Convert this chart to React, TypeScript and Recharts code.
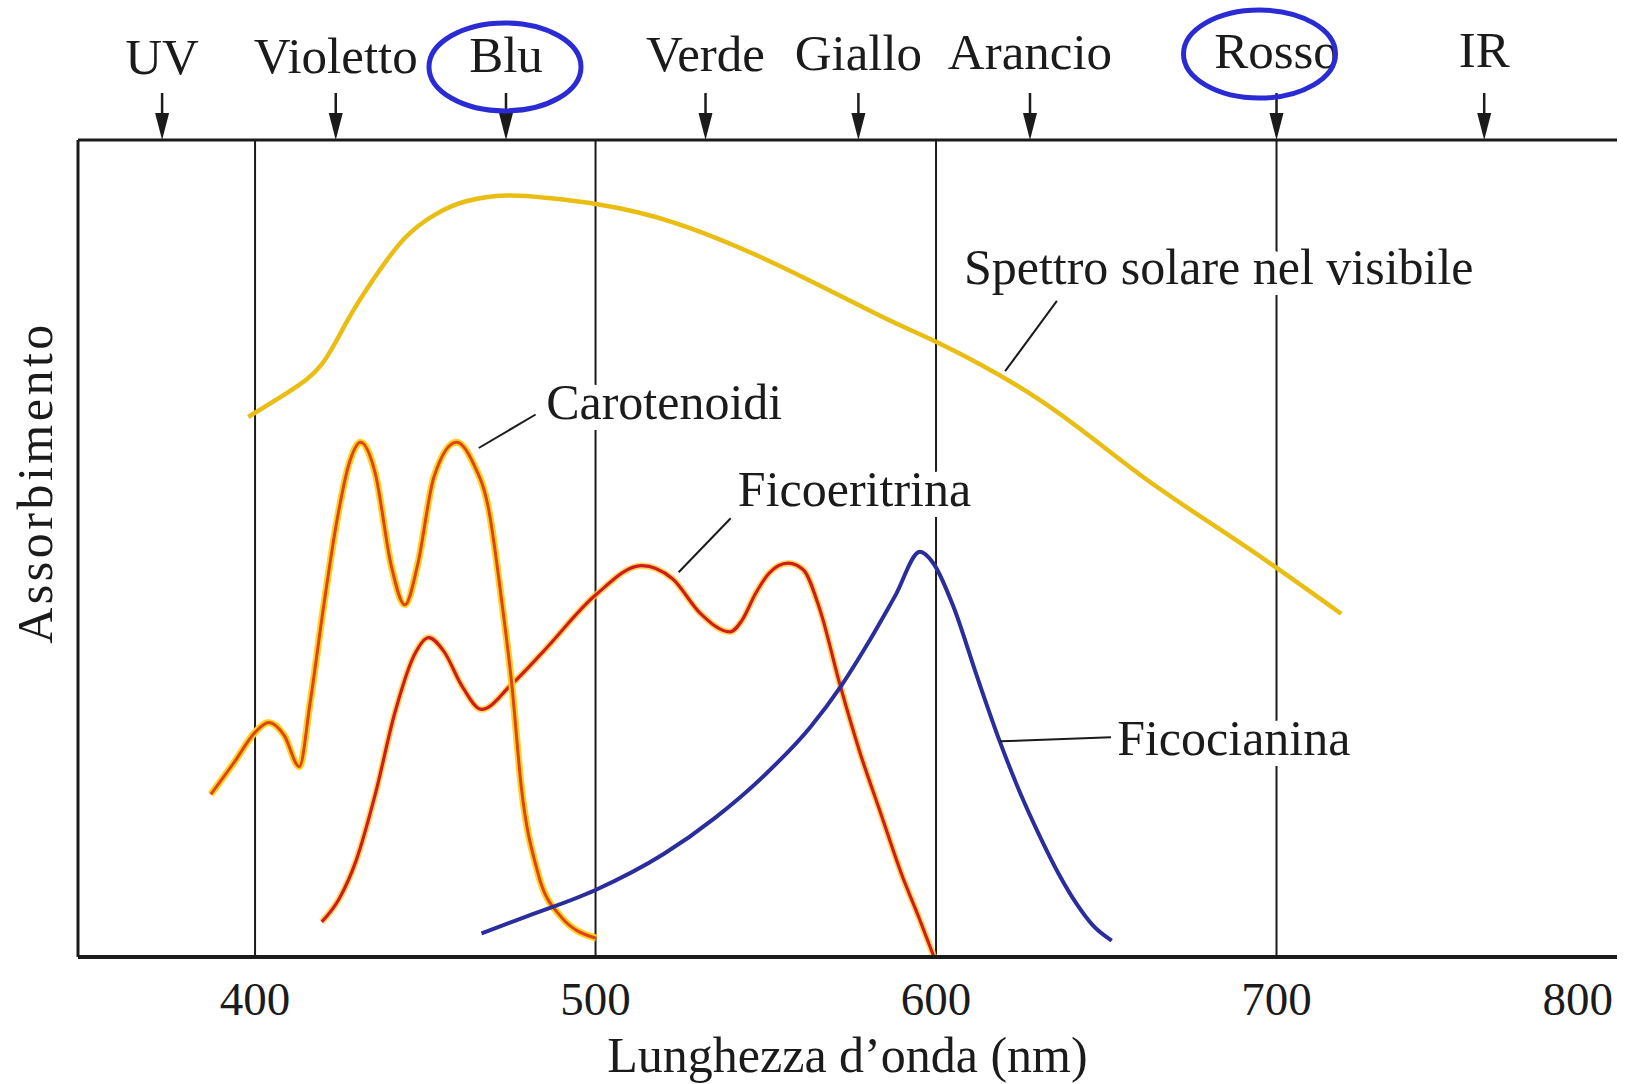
import React from "react";
import { LineChart, Line, XAxis, YAxis, ReferenceLine, ReferenceDot } from "recharts";

const FONT = '"Liberation Serif", "DejaVu Serif", "Times New Roman", serif';
const INK = "#1b1b1b";

// wavelength (nm) and relative absorbance (0..100)
const solarWl = [398, 410, 419.5, 427, 435, 444, 453, 462, 474, 486, 501, 523, 553, 584, 600, 630, 660, 690, 719];
const solarAbs = [66.1, 69.2, 72.5, 77.8, 83.1, 88, 90.9, 92.5, 93.2, 92.9, 92.1, 89.9, 84.8, 78.4, 75.3, 68.3, 59, 50.5, 42];

const caroWl = [387, 394, 400, 404, 408.6, 413, 416.2, 420, 424, 427.7, 431, 435.3, 440, 444, 447.7, 452.5, 459.2, 464, 468.7, 472.5, 475.4, 478.2, 483, 489.7, 500.2];
const caroAbs = [19.9, 23.9, 27.5, 28.7, 27.1, 23.3, 31.2, 42.5, 53.3, 60.5, 63, 59.2, 47.9, 43.1, 47.9, 58.7, 63, 60.5, 54.6, 43.4, 33.4, 20.8, 10.4, 5, 2.3];

const eryWl = [419.6, 424.8, 429.6, 435.3, 441, 446.8, 451, 455.3, 461, 466.5, 475.4, 484.9, 500, 513.5, 522.6, 530.7, 539.5, 543, 547, 551, 556.6, 561, 565.9, 571.8, 577.6, 583.5, 590, 595, 599.4];
const eryAbs = [4.3, 7.2, 11.7, 19.9, 29.8, 37, 39.1, 37.5, 33, 30.3, 33.4, 37.5, 44.3, 47.9, 46.3, 42.1, 39.8, 41.2, 44.5, 47, 48.2, 47.4, 42.5, 33.3, 25.1, 17.9, 10, 4.8, 0];

const cyanWl = [466.5, 480, 500, 520, 535, 550, 563, 572, 580, 588, 595.3, 599.2, 605.1, 611.9, 618.8, 625, 630, 636, 641.3, 646, 651.6];
const cyanAbs = [2.9, 5, 8.2, 12.6, 17, 22.4, 28.1, 33.1, 38.4, 44.2, 49.6, 48.2, 42.9, 34.5, 26.3, 19.8, 15.2, 10.2, 6.5, 3.9, 2];

const xTicks = [400, 500, 600, 700, 800];
const dividers = [400, 500, 600, 700];

const bandNames = ["UV", "Violetto", "Blu", "Verde", "Giallo", "Arancio", "Rosso", "IR"];
const bandWl = [372.7, 423.7, 473.7, 532.3, 577.2, 627.6, 700, 761];

const noteNames = ["Spettro solare nel visibile", "Carotenoidi", "Ficoeritrina", "Ficocianina"];
const noteWl = [608.2, 485.5, 541.8, 653.2];
const noteAbs = [84.5, 68, 57.3, 26.9];
const leaderFromWl = [620.3, 465.7, 524.4, 618.8];
const leaderFromAbs = [71.7, 62.3, 47.1, 26.4];
const leaderToWl = [635.5, 482.4, 539.7, 651.4];
const leaderToAbs = [80.3, 66.4, 53.7, 26.9];

// hand-drawn circles added on top of the scan: [dx, dy] from the label
const circleOffset: Record<string, number[]> = { Blu: [-1, -5], Rosso: [-17, -14] };

const toRows = (wl: number[], abs: number[]) => wl.map((w, i) => ({ w, a: abs[i] }));
const solar = toRows(solarWl, solarAbs);
const caro = toRows(caroWl, caroAbs);
const ery = toRows(eryWl, eryAbs);
const cyan = toRows(cyanWl, cyanAbs);

function BandArrow(props: any) {
  const { x1, y1, y2, name } = props;
  const tip = Math.max(y1, y2);
  const top = Math.min(y1, y2);
  const base = top - 19 - (x1 - 78) * 0.005;
  const circ = circleOffset[name];
  return (
    <g>
      <line x1={x1} x2={x1} y1={top} y2={tip - 20} stroke={INK} strokeWidth={2.5} />
      <polygon points={`${x1 - 7},${tip - 27} ${x1 + 7},${tip - 27} ${x1},${tip}`} fill={INK} />
      <text x={x1} y={base} textAnchor="middle" fontFamily={FONT} fontSize={51} fill={INK}>{name}</text>
      {circ && (
        <ellipse cx={x1 + circ[0]} cy={base + circ[1]} rx={76} ry={44} fill="none" stroke="#2b2bd6" strokeWidth={5} />
      )}
    </g>
  );
}

function NoteLabel(props: any) {
  const { cx, cy, text } = props;
  return (
    <text x={cx} y={cy} dy="0.35em" fontFamily={FONT} fontSize={50} fill={INK}
      stroke="#fff" strokeWidth={22} strokeLinejoin="round" paintOrder="stroke">
      {text}
    </text>
  );
}

function WaveTick(props: any) {
  const { x, y, payload } = props;
  return (
    <text x={x} y={y + 58} textAnchor={payload.value === 800 ? "end" : "middle"}
      fontFamily={FONT} fontSize={47} fill={INK}>
      {payload.value}
    </text>
  );
}

export default function App() {
  return (
    <div style={{ position: "absolute", left: 0, top: 0, width: 1625, height: 1084, background: "#fff" }}>
      <LineChart width={1625} height={1084} margin={{ top: 140, right: 8, bottom: 0, left: 0 }}>
        <XAxis
          dataKey="w"
          type="number"
          domain={[348, 800]}
          ticks={xTicks}
          allowDataOverflow
          tickLine={false}
          tickSize={0}
          tickMargin={0}
          axisLine={{ stroke: INK, strokeWidth: 4 }}
          height={127}
          tick={<WaveTick />}
          label={(p: any) => {
            const vb = p.viewBox || { x: 78, y: 957, width: 1539 };
            return (
              <text x={vb.x + vb.width / 2} y={vb.y + 115} textAnchor="middle" fontFamily={FONT} fontSize={50} fill={INK}>
                Lunghezza d’onda (nm)
              </text>
            );
          }}
        />
        <YAxis
          type="number"
          domain={[0, 100]}
          width={78}
          tick={false}
          tickLine={false}
          axisLine={{ stroke: INK, strokeWidth: 3 }}
          label={(p: any) => {
            const vb = p.viewBox || { x: 0, y: 140, width: 78, height: 817 };
            const cy = vb.y + vb.height / 2 - 66;
            return (
              <text x={52} y={cy} transform={`rotate(-90, 52, ${cy})`} textAnchor="middle" fontFamily={FONT}
                fontSize={50} letterSpacing={3.5} fill={INK}>
                Assorbimento
              </text>
            );
          }}
        />

        <ReferenceLine y={100} stroke={INK} strokeWidth={3} ifOverflow="visible" />
        {dividers.map((d) => (
          <ReferenceLine key={"d" + d} x={d} stroke={INK} strokeWidth={2} />
        ))}
        {bandNames.map((name, i) => (
          <ReferenceLine
            key={"b" + name}
            segment={[{ x: bandWl[i], y: 100 }, { x: bandWl[i], y: 105.75 }]}
            ifOverflow="visible"
            shape={(p: any) => <BandArrow {...p} name={name} />}
          />
        ))}

        <Line data={solar} dataKey="a" type="natural" stroke="#eabd12" strokeWidth={4.5} dot={false} isAnimationActive={false} />
        <Line data={ery} dataKey="a" type="monotone" stroke="#ffcc3a" strokeOpacity={0.8} strokeWidth={6.5} dot={false} isAnimationActive={false} />
        <Line data={ery} dataKey="a" type="monotone" stroke="#d01c1c" strokeWidth={3.2} dot={false} isAnimationActive={false} />
        <Line data={caro} dataKey="a" type="monotone" stroke="#ffd21c" strokeWidth={7} dot={false} isAnimationActive={false} />
        <Line data={caro} dataKey="a" type="monotone" stroke="#dd431c" strokeWidth={3} dot={false} isAnimationActive={false} />
        <Line data={cyan} dataKey="a" type="monotone" stroke="#2a2d9c" strokeWidth={4} dot={false} isAnimationActive={false} />

        {noteNames.map((n, i) => (
          <ReferenceLine
            key={"l" + n}
            segment={[{ x: leaderFromWl[i], y: leaderFromAbs[i] }, { x: leaderToWl[i], y: leaderToAbs[i] }]}
            stroke={INK}
            strokeWidth={2}
          />
        ))}
        {noteNames.map((n, i) => (
          <ReferenceDot
            key={"n" + n}
            x={noteWl[i]}
            y={noteAbs[i]}
            ifOverflow="visible"
            shape={(p: any) => <NoteLabel {...p} text={n} />}
          />
        ))}
      </LineChart>
    </div>
  );
}
